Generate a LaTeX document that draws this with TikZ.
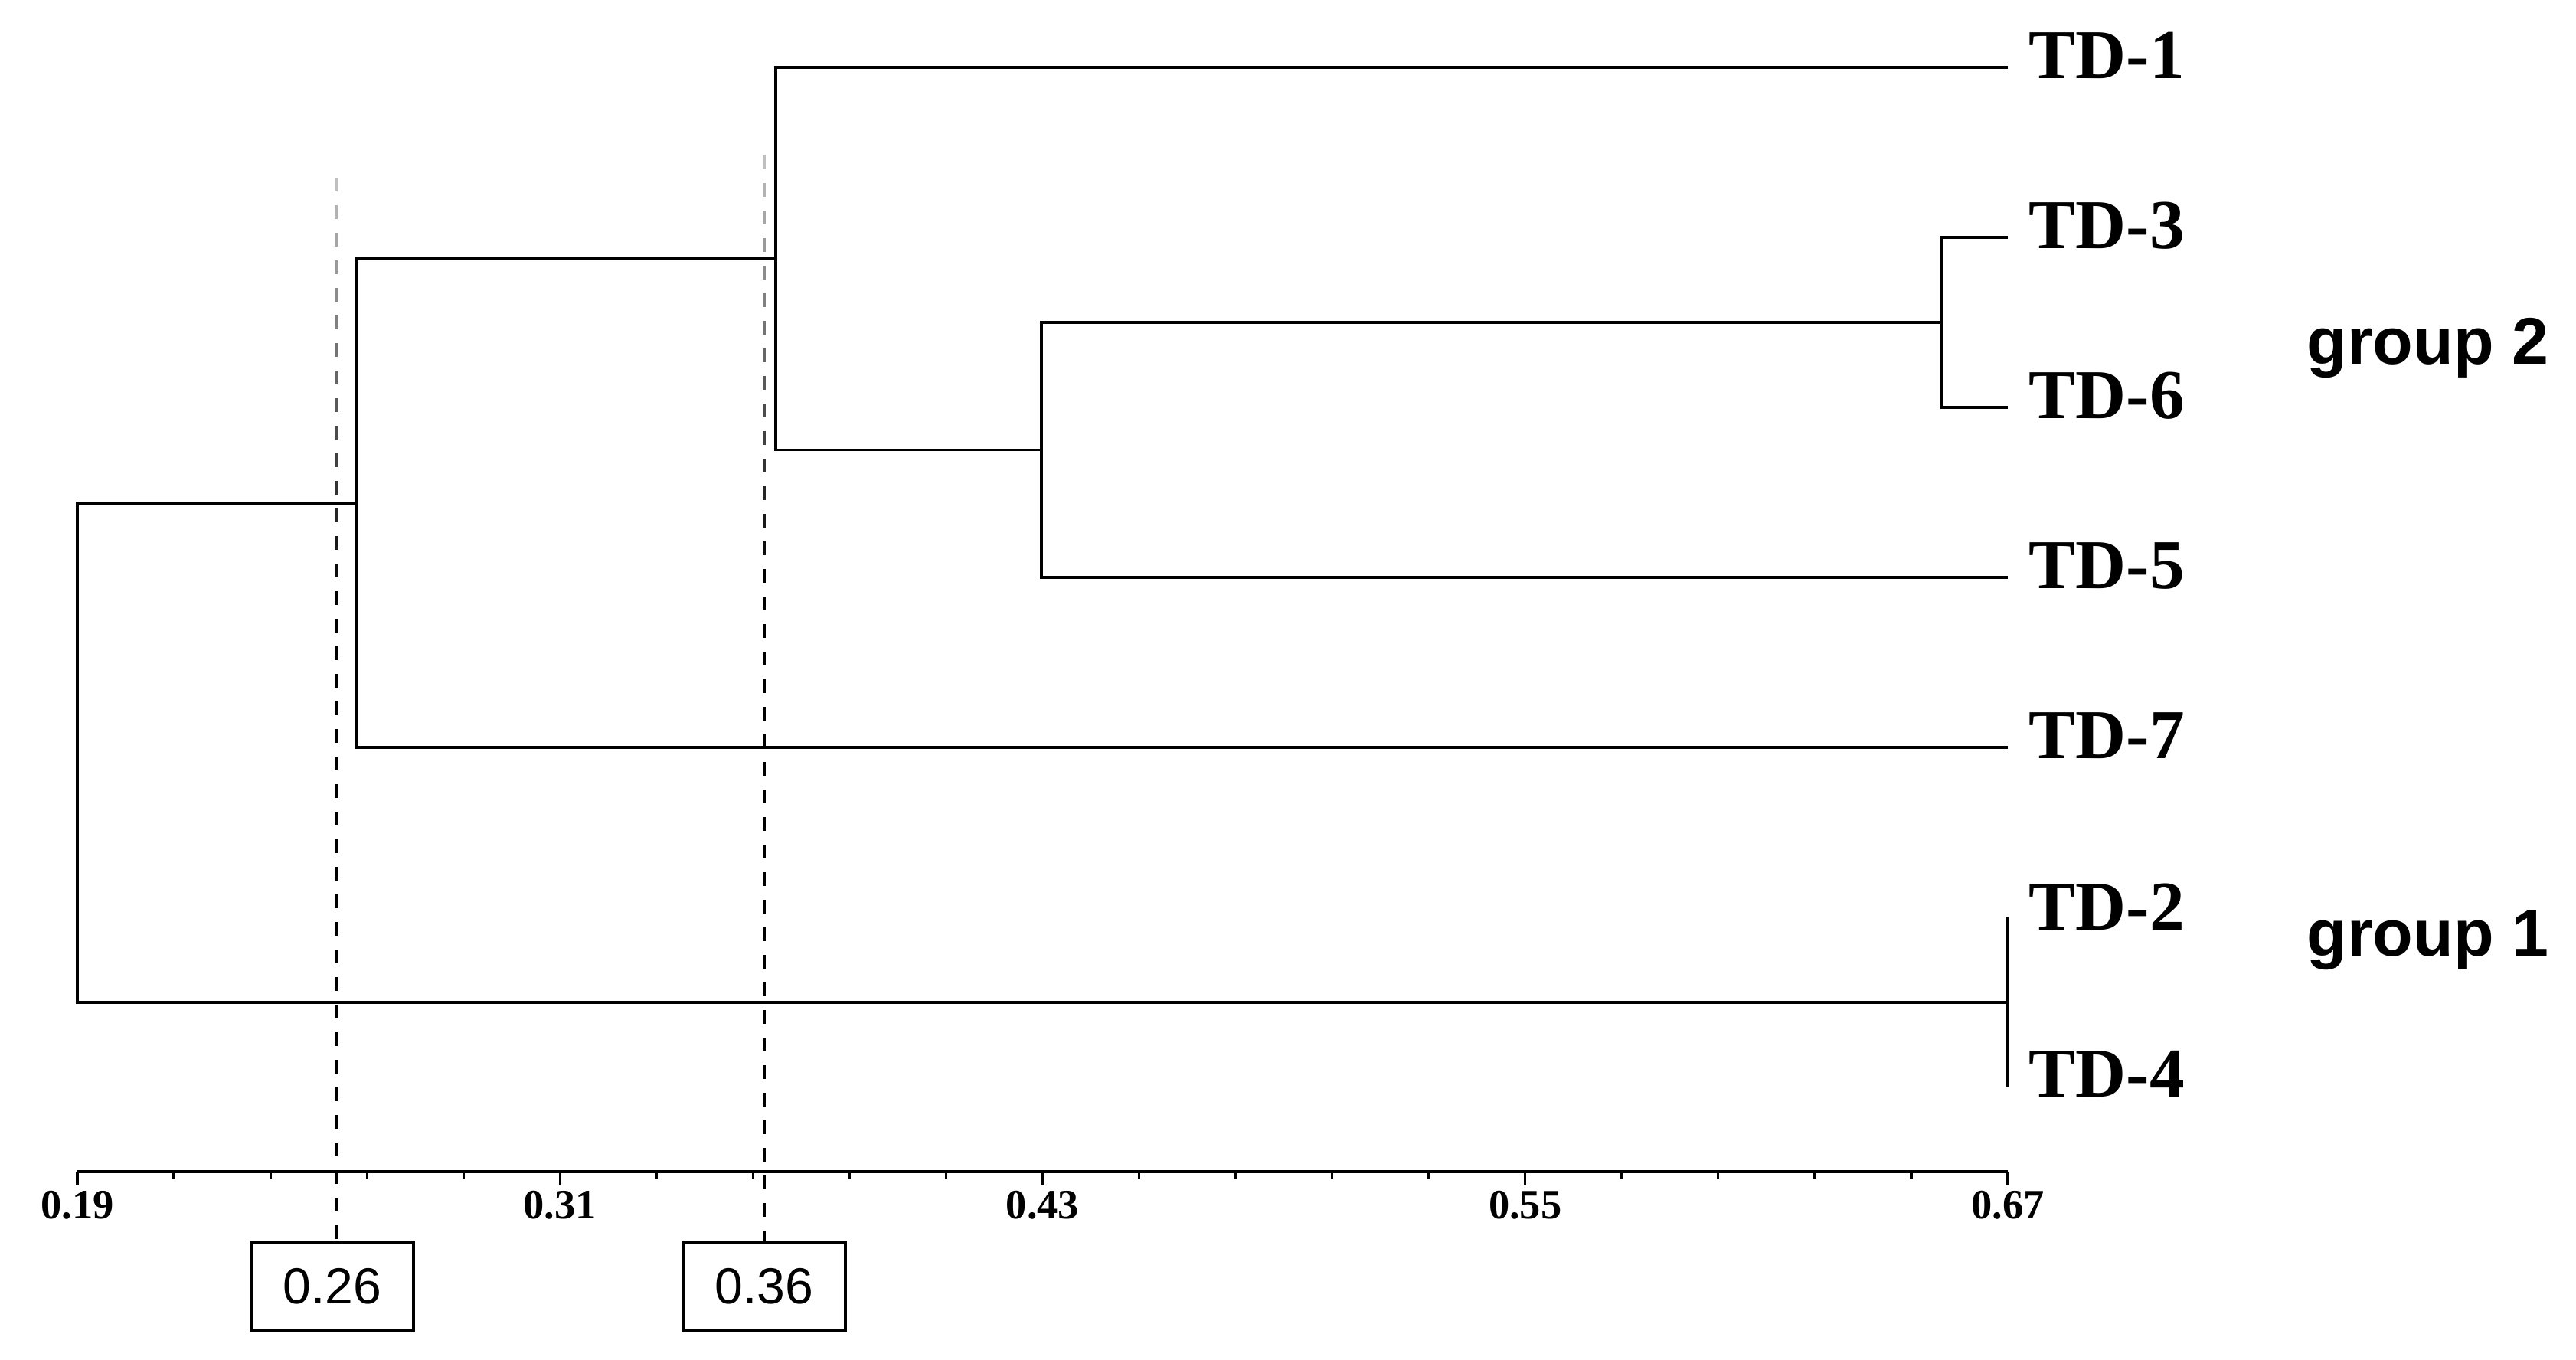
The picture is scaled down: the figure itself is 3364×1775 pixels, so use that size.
\documentclass[tikz,border=0pt]{standalone}
\usepackage{fontspec}
\setmainfont{Liberation Serif}
\newfontfamily\arialfont{Liberation Sans}
\begin{document}
\begin{tikzpicture}[x=0.01cm, y=-0.01cm,
  tree/.style={line width=1.1pt},
  leaflab/.style={font=\fontsize{26}{26}\selectfont\bfseries, anchor=base west, inner sep=0pt},
  grouplab/.style={font=\arialfont\fontsize{24.5}{25}\selectfont\bfseries, anchor=base west, inner sep=0pt},
  ticklab/.style={font=\fontsize{15.5}{16}\selectfont\bfseries, anchor=base, inner sep=0pt},
  cutbox/.style={draw, line width=1.2pt, minimum width=2.12cm, minimum height=1.16cm, inner sep=0pt, font=\arialfont\fontsize{18.8}{19}\selectfont},
  cutline/.style={line width=1.1pt, dash pattern=on 0.18cm off 0.18cm}]
\useasboundingbox (0,0) rectangle (3364,1775);

% leaf ends
\coordinate (l1) at (2622,88);
\coordinate (l3) at (2622,310);
\coordinate (l6) at (2622,532);
\coordinate (l5) at (2622,754);
\coordinate (l7) at (2622,976);
\coordinate (l2) at (2622,1198);
\coordinate (l4) at (2622,1420);
\coordinate (g1) at (2622,1309);
% internal nodes
\coordinate (n36) at (2536,421);
\coordinate (n5) at (1360,587.5);
\coordinate (n1) at (1013,337.5);
\coordinate (n7) at (466,657);
\coordinate (root) at (101,983);

% leaf labels
\node[leaflab] (t1) at (2649,102) {TD-1};
\node[leaflab] (t3) at (2649,324) {TD-3};
\node[leaflab] (t6) at (2649,546) {TD-6};
\node[leaflab] (t5) at (2649,768) {TD-5};
\node[leaflab] (t7) at (2649,990) {TD-7};
\node[leaflab] (t2) at (2649,1214) {TD-2};
\node[leaflab] (t4) at (2649,1432) {TD-4};

% group labels
\node[grouplab] (grp2) at (3012,475) {group 2};
\node[grouplab] (grp1) at (3012,1248) {group 1};

% tree
\draw[tree] (l3) -| (n36) |- (l6);
\draw[tree] (l5) -| (n5) |- (n36);
\draw[tree] (l1) -| (n1) |- (n5);
\draw[tree] (n1) -| (n7) |- (l7);
\draw[tree] (n7) -| (root) |- (g1);
\draw[tree] (l2) -- (l4);

% axis
\coordinate (a0) at (101,1530);
\coordinate (a1) at (2622,1530);
\draw[line width=1.3pt] (a0) -- (a1);
\foreach \i in {0,...,20}{
  \pgfmathtruncatemacro\m{mod(\i,5)}
  \ifnum\m=0 \def\tl{17}\else\def\tl{10}\fi
  \draw[line width=0.9pt] ({101+\i*126.05},1530) -- ++(0,\tl);
}
\foreach \v/\i in {0.19/0,0.31/5,0.43/10,0.55/15,0.67/20}
  \node[ticklab] (tk\i) at ({101+\i*126.05},1591) {\v};

% cut boxes
\node[cutbox] (b26) at (434,1680) {0.26};
\node[cutbox] (b36) at (998,1680) {0.36};

% cut lines (fading at top)
\coordinate (c26) at (439,232);
\coordinate (c36) at (998,203);
\foreach \i in {0,...,14}{
  \pgfmathtruncatemacro\c{min(100,25+\i*5)}
  \draw[line width=1.1pt, black!\c] (439,{232+36*\i}) -- ++(0,18);
  \draw[line width=1.1pt, black!\c] (998,{203+36*\i}) -- ++(0,18);
}
\coordinate (c26b) at (439,772);
\coordinate (c36b) at (998,743);
\draw[cutline] (c26b) -- (c26b |- b26.north);
\draw[cutline] (c36b) -- (c36b |- b36.north);
\end{tikzpicture}
\end{document}
